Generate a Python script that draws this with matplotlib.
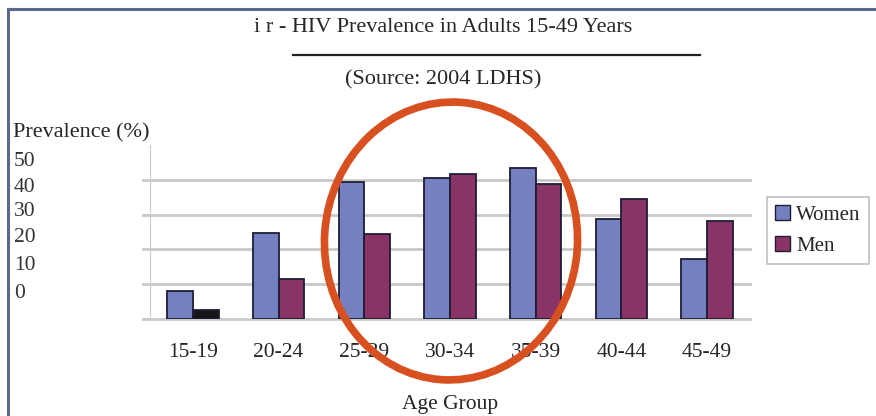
import matplotlib
matplotlib.use("Agg")
import matplotlib.pyplot as plt
from matplotlib.patches import Ellipse, Rectangle
from matplotlib.lines import Line2D
import numpy as np

# Data
age_groups = ["15-19", "20-24", "25-29", "30-34", "35-39", "40-44", "45-49"]
women = [8.0, 24.7, 39.3, 40.6, 43.3, 28.7, 17.2]
men = [2.6, 11.5, 24.3, 41.7, 38.9, 34.4, 28.1]
ytick_labels = ["50", "40", "30", "20", "10", "0"]
gridline_values = [10, 20, 30, 40]

W, H = 876, 416
fig = plt.figure(figsize=(W / 100, H / 100), dpi=100)
plt.rcParams["font.family"] = ["Liberation Serif", "DejaVu Serif"]
TXT = "#262626"

def fx(px):
    return px / W

def fy(py):
    return 1 - py / H

# Plot area in pixel coordinates
left, right, top, base = 150, 750, 145, 319
ax = fig.add_axes([fx(left), fy(base), fx(right - left), (base - top) / H])
ax.set_xlim(0, len(age_groups))
ax.set_ylim(0, 50)

x = np.arange(len(age_groups)) + 0.5
bw = 0.3
women_color = "#7580c0"
men_color = "#8a3366"
edge = "#1d1d35"
men_colors = [men_color] * len(men)
men_colors[0] = "#161616"
ax.bar(x - bw / 2, women, bw, color=women_color, edgecolor=edge, linewidth=1.3, zorder=3)
ax.bar(x + bw / 2, men, bw, color=men_colors, edgecolor=edge, linewidth=1.3, zorder=3)

for v in gridline_values + [0]:
    ax.axhline(v, xmin=-0.012, xmax=1, color="#c9c9c9", linewidth=2, zorder=1, clip_on=False)
ax.axvline(0, ymin=0, ymax=1, color="#c9c9c9", linewidth=1.5, zorder=1)

for s in ax.spines.values():
    s.set_visible(False)
ax.set_yticks([])
ax.set_xticks(x)
ax.set_xticklabels(age_groups, fontsize=15.5, color=TXT)
ax.tick_params(axis="x", length=0, pad=17)
ax.set_xlabel("Age Group", fontsize=15.5, color=TXT, labelpad=24)
ax.patch.set_alpha(0)

# Y labels placed as free text in the left margin
label_y = [162, 187, 212, 238, 265, 293]
for lab, py in zip(ytick_labels, label_y):
    fig.text(fx(14), fy(py), lab, fontsize=15.5, color="#333333", va="center", ha="left")
fig.text(fx(13), fy(133), "Prevalence (%)", fontsize=16, color=TXT, va="center", ha="left")

# Titles
fig.text(fx(443), fy(27), "i r - HIV Prevalence in Adults 15-49 Years", fontsize=16,
         color=TXT, ha="center", va="center")
fig.add_artist(Line2D([fx(293), fx(700)], [fy(55), fy(55)], color="#222222", linewidth=1.6))
fig.text(fx(443), fy(80), "(Source: 2004 LDHS)", fontsize=16, color=TXT,
         ha="center", va="center")

# Legend
leg = ax.legend(
    handles=[Rectangle((0, 0), 1, 1, facecolor=women_color, edgecolor=edge),
             Rectangle((0, 0), 1, 1, facecolor=men_color, edgecolor=edge)],
    labels=["Women", "Men"], loc="upper left",
    bbox_to_anchor=(fx(767), fy(197)), bbox_transform=fig.transFigure,
    fontsize=15, frameon=True, fancybox=False, edgecolor="#b0b0b0",
    handlelength=0.7, handleheight=0.7, handletextpad=0.3, borderpad=0.4,
    labelspacing=0.55, borderaxespad=0)
leg.get_frame().set_linewidth(1.2)
for t in leg.get_texts():
    t.set_color(TXT)

# Highlight ellipse around the 25-39 groups (drawn in inches)
fig.add_artist(Ellipse((451 / 100, (H - 241) / 100), 2.53, 2.78, angle=-4,
                       fill=False, edgecolor="#d8501f", linewidth=5.5,
                       transform=fig.dpi_scale_trans, zorder=10))

# Slide frame (top and left edges)
fig.add_artist(Line2D([fx(8), fx(876)], [fy(9), fy(9)], color="#5b6890", linewidth=2.2))
fig.add_artist(Line2D([fx(8), fx(8)], [fy(9), fy(416)], color="#5b6890", linewidth=2.2))

fig.savefig("out.png", dpi=100)
